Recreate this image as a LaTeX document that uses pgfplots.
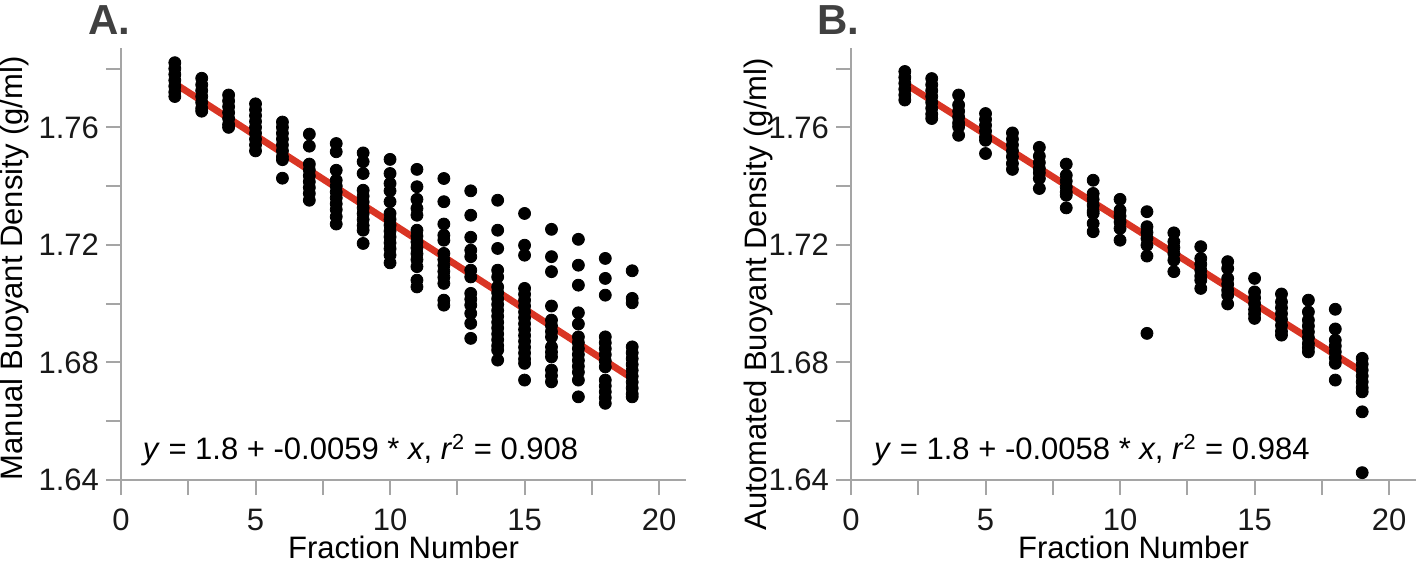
\documentclass[border=0pt]{standalone}
\usepackage{pgfplots}
\pgfplotsset{compat=1.18}
\usepackage{pgfplotstable}
\usepackage{fontspec}
\setmainfont{Liberation Sans}
\definecolor{fitred}{RGB}{217,53,36}
\definecolor{axgray}{RGB}{165,165,165}
\definecolor{panelgray}{RGB}{64,64,64}

\pgfplotstableread{
x y
2 1.782
2 1.780
2 1.778
2 1.776
2 1.774
2 1.772
2 1.7705
3 1.7767
3 1.7745
3 1.7725
3 1.7705
3 1.7685
3 1.7665
3 1.7655
4 1.771
4 1.769
4 1.767
4 1.765
4 1.763
4 1.761
4 1.760
5 1.768
5 1.766
5 1.764
5 1.762
5 1.760
5 1.758
5 1.756
5 1.754
5 1.752
6 1.7618
6 1.760
6 1.758
6 1.756
6 1.754
6 1.752
6 1.750
6 1.749
6 1.7427
7 1.7577
7 1.7536
7 1.7475
7 1.7455
7 1.7435
7 1.7415
7 1.7395
7 1.7375
7 1.7352
8 1.7545
8 1.7517
8 1.7454
8 1.742
8 1.740
8 1.738
8 1.736
8 1.734
8 1.732
8 1.7296
8 1.7271
9 1.7513
9 1.7483
9 1.7443
9 1.7386
9 1.7366
9 1.7346
9 1.7326
9 1.7306
9 1.7286
9 1.7266
9 1.725
9 1.7205
10 1.7491
10 1.7443
10 1.7409
10 1.7384
10 1.7347
10 1.7307
10 1.7287
10 1.7267
10 1.7247
10 1.7227
10 1.7207
10 1.7187
10 1.7165
10 1.7139
11 1.7457
11 1.7398
11 1.7355
11 1.7324
11 1.7301
11 1.725
11 1.723
11 1.721
11 1.719
11 1.717
11 1.715
11 1.7126
11 1.708
11 1.7057
12 1.7426
12 1.7347
12 1.7271
12 1.7233
12 1.7216
12 1.7171
12 1.715
12 1.713
12 1.711
12 1.709
12 1.7069
12 1.7012
12 1.6995
13 1.7384
13 1.7301
13 1.7226
13 1.7182
13 1.716
13 1.7114
13 1.7091
13 1.7035
13 1.7015
13 1.6995
13 1.6967
13 1.6933
13 1.6882
14 1.7352
14 1.725
14 1.7188
14 1.7114
14 1.7091
14 1.7057
14 1.7037
14 1.7017
14 1.6997
14 1.6977
14 1.6957
14 1.6937
14 1.6917
14 1.6897
14 1.6877
14 1.6857
14 1.6842
14 1.6808
15 1.7307
15 1.7199
15 1.7165
15 1.7052
15 1.7032
15 1.7012
15 1.6992
15 1.6972
15 1.6952
15 1.6932
15 1.6912
15 1.6892
15 1.6872
15 1.6852
15 1.6832
15 1.6812
15 1.6797
15 1.674
16 1.7253
16 1.716
16 1.7109
16 1.6992
16 1.6944
16 1.6925
16 1.6905
16 1.6887
16 1.6853
16 1.6835
16 1.6819
16 1.6774
16 1.6755
16 1.6734
17 1.7219
17 1.7131
17 1.7063
17 1.6969
17 1.6931
17 1.6887
17 1.6867
17 1.6847
17 1.6827
17 1.6807
17 1.6787
17 1.6767
17 1.674
17 1.6683
18 1.7154
18 1.7086
18 1.7029
18 1.6887
18 1.6867
18 1.6847
18 1.6827
18 1.6805
18 1.6785
18 1.674
18 1.672
18 1.670
18 1.668
18 1.6661
19 1.7112
19 1.7018
19 1.7003
19 1.6853
19 1.6833
19 1.6813
19 1.6793
19 1.6773
19 1.6753
19 1.6733
19 1.6713
19 1.6693
19 1.6683
}\dataA

\pgfplotstableread{
x y
2 1.779
2 1.777
2 1.775
2 1.773
2 1.771
2 1.7693
3 1.7766
3 1.7745
3 1.7725
3 1.7705
3 1.7685
3 1.7665
3 1.7645
3 1.763
4 1.771
4 1.7676
4 1.7655
4 1.7635
4 1.7615
4 1.7602
4 1.7573
5 1.7647
5 1.7627
5 1.7607
5 1.7587
5 1.7567
5 1.7556
5 1.7511
6 1.7581
6 1.756
6 1.754
6 1.752
6 1.750
6 1.7477
6 1.7457
7 1.7532
7 1.7502
7 1.748
7 1.746
7 1.7445
7 1.7426
7 1.7392
8 1.7475
8 1.7437
8 1.7417
8 1.7397
8 1.738
8 1.7369
8 1.7326
9 1.742
9 1.7375
9 1.7355
9 1.7335
9 1.7315
9 1.7307
9 1.7273
9 1.7245
10 1.7355
10 1.7318
10 1.7298
10 1.7278
10 1.7256
10 1.7216
11 1.7313
11 1.7262
11 1.7242
11 1.7222
11 1.7199
11 1.7162
11 1.6899
12 1.7241
12 1.7211
12 1.7191
12 1.7171
12 1.7148
12 1.7109
13 1.7194
13 1.7154
13 1.7134
13 1.7114
13 1.7094
13 1.708
13 1.7052
14 1.7143
14 1.712
14 1.7086
14 1.7066
14 1.7046
14 1.7029
14 1.6999
15 1.7086
15 1.704
15 1.702
15 1.700
15 1.698
15 1.6965
15 1.695
16 1.7033
16 1.7006
16 1.6986
16 1.6966
16 1.6946
16 1.6926
16 1.6906
16 1.6893
17 1.7012
17 1.6972
17 1.6944
17 1.6924
17 1.6904
17 1.6884
17 1.6864
17 1.685
17 1.6836
18 1.6981
18 1.6914
18 1.6876
18 1.6856
18 1.6836
18 1.6816
18 1.6797
18 1.674
19 1.6814
19 1.6794
19 1.6774
19 1.6754
19 1.6734
19 1.6714
19 1.670
19 1.6632
19 1.6425
}\dataB

\pgfplotsset{
  densstyle/.style={
    scale only axis, width=282.5pt, height=216pt,
    xmin=0, xmax=21, ymin=1.64, ymax=1.787,
    axis x line*=bottom, axis y line*=left,
    axis line style={axgray, line width=1pt},
    xtick={0,5,10,15,20}, minor xtick={2.5,7.5,12.5,17.5},
    ytick={1.64,1.68,1.72,1.76}, minor ytick={1.66,1.70,1.74,1.78},
    yticklabel style={/pgf/number format/.cd, fixed, fixed zerofill, precision=2},
    xticklabel style={yshift=-3.5pt},
    tick align=outside, major tick length=7.5pt, minor tick length=7.5pt,
    tick style={axgray, line width=1pt},
    tick label style={font=\fontsize{15.5}{18}\selectfont, text=black!90},
    label style={font=\fontsize{15.5}{18}\selectfont},
    /pgf/number format/assume math mode=true,
    xlabel={Fraction Number},
    xlabel style={at={(axis description cs:0.5,-0.157)}, anchor=center},
    clip=false,
  }
}

\begin{document}
\begin{tikzpicture}
\useasboundingbox (0,0) rectangle (708.5pt,282pt);
\node[font=\fontsize{21}{24}\selectfont\bfseries, text=panelgray] at (54.5pt,272pt) {A.};
\node[font=\fontsize{21}{24}\selectfont\bfseries, text=panelgray] at (419pt,272pt) {B.};

\begin{axis}[densstyle, at={(60.5pt,42pt)}, anchor=south west,
  ylabel={Manual Buoyant Density (g/ml)},
  ylabel style={at={(axis description cs:-0.189,0.49)}, anchor=center}]
\addplot[only marks, mark=*, mark size=3pt, black] table[x=x,y=y] {\dataA};
\addplot[fitred, line width=3.4pt] coordinates {(2,1.7749) (19,1.6746)};
\node[anchor=west, font=\fontsize{15.5}{18}\selectfont] at (axis cs:0.55,1.6502)
  {\textit{y} = 1.8 + -0.0059 * \textit{x}, \textit{r}\textsuperscript{2} = 0.908};
\end{axis}

\begin{axis}[densstyle, at={(425.5pt,42pt)}, anchor=south west,
  ylabel={Automated Buoyant Density (g/ml)},
  ylabel style={at={(axis description cs:-0.163,0.43)}, anchor=center}]
\addplot[only marks, mark=*, mark size=3pt, black] table[x=x,y=y] {\dataB};
\addplot[fitred, line width=3.4pt] coordinates {(2,1.7749) (19,1.6768)};
\node[anchor=west, font=\fontsize{15.5}{18}\selectfont] at (axis cs:0.6,1.6502)
  {\textit{y} = 1.8 + -0.0058 * \textit{x}, \textit{r}\textsuperscript{2} = 0.984};
\end{axis}
\end{tikzpicture}
\end{document}
